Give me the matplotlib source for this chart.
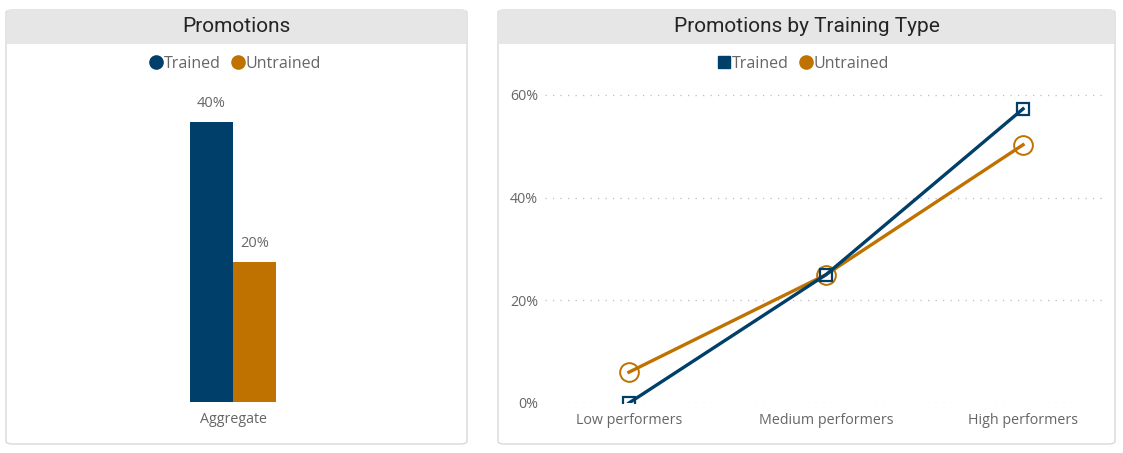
import matplotlib
matplotlib.use('Agg')
import matplotlib.pyplot as plt
from matplotlib.patches import FancyBboxPatch, Rectangle
from matplotlib.lines import Line2D
from matplotlib.ticker import PercentFormatter

# data
series = ['Trained', 'Untrained']
aggregate = [0.40, 0.20]
categories = ['Low performers', 'Medium performers', 'High performers']
trained = [0.0, 0.25, 0.573]
untrained = [0.06, 0.25, 0.503]

NAVY = '#003F6A'
ORANGE = '#BF7200'
GREY_TXT = '#666666'

plt.rcParams['font.family'] = ['Open Sans', 'DejaVu Sans']

W, H = 1123, 453
fig = plt.figure(figsize=(W / 100, H / 100), dpi=100)
fig.patch.set_facecolor('white')


def px(x0, y0, x1, y1):
    # pixel box (top-left origin) -> figure fraction rect
    return [x0 / W, 1 - y1 / H, (x1 - x0) / W, (y1 - y0) / H]


def panel(x0, y0, x1, y1, title):
    box = FancyBboxPatch((x0 / W, 1 - y1 / H), (x1 - x0) / W, (y1 - y0) / H,
                         boxstyle='round,pad=0,rounding_size=0.006',
                         transform=fig.transFigure, facecolor='white',
                         edgecolor='#d9d9d9', linewidth=1.0, zorder=-3)
    fig.patches.append(box)
    head = Rectangle((x0 / W + 0.0008, 1 - 44 / H), (x1 - x0) / W - 0.0016, 34 / H,
                     transform=fig.transFigure, facecolor='#e6e6e6',
                     edgecolor='none', zorder=-2)
    fig.patches.append(head)
    fig.text((x0 + x1) / 2 / W, 1 - 26 / H, title, ha='center', va='center',
             fontsize=15, color='#252423', family=['Roboto', 'DejaVu Sans'])


panel(6, 10, 467, 444, 'Promotions')
panel(498, 10, 1115, 444, 'Promotions by Training Type')

# left bar chart
ax1 = fig.add_axes(px(20, 90, 446, 402))
ax1.patch.set_visible(False)
bw = 0.204
xs = [-bw / 2, bw / 2]
bars = ax1.bar(xs, aggregate, width=bw, color=[NAVY, ORANGE])
for x, v in zip(xs, aggregate):
    ax1.annotate(f'{v:.0%}', (x, v), xytext=(0, 13), textcoords='offset points',
                 ha='center', va='center', fontsize=10.5, color=GREY_TXT)
ax1.set_xlim(-1, 1)
ax1.set_ylim(0, 0.4 * 312 / 280)
ax1.set_xticks([0])
ax1.set_xticklabels(['Aggregate'], fontsize=10.3, color=GREY_TXT)
ax1.tick_params(axis='x', length=0, pad=7)
ax1.set_yticks([])
for s in ax1.spines.values():
    s.set_visible(False)

h1 = [Line2D([], [], marker='o', linestyle='none', color=c, markersize=9.5)
      for c in (NAVY, ORANGE)]
fig.legend(h1, series, loc='center', bbox_to_anchor=(235 / W, 1 - 64 / H),
           ncol=2, frameon=False, handletextpad=0.05, columnspacing=0.6,
           handlelength=0.9, fontsize=11.5, labelcolor=GREY_TXT)

# right line chart
ax2 = fig.add_axes(px(545, 85, 1105, 403))
ax2.patch.set_visible(False)
xi = range(len(categories))
ax2.plot(xi, trained, color=NAVY, linewidth=2.4, marker='s', markersize=8.5,
         markerfacecolor='none', markeredgewidth=1.6, zorder=3)
ax2.plot(xi, untrained, color=ORANGE, linewidth=2.4, marker='o', markersize=13.5,
         markerfacecolor='none', markeredgewidth=1.4, zorder=2)
ax2.set_xlim(-0.426, 2.416)
ax2.set_ylim(0, 0.6 * 318 / 308)
ax2.set_yticks([0, 0.2, 0.4, 0.6])
ax2.yaxis.set_major_formatter(PercentFormatter(1.0, decimals=0))
ax2.set_xticks(list(xi))
ax2.set_xticklabels(categories)
ax2.tick_params(axis='both', length=0, labelsize=10.3, labelcolor=GREY_TXT)
ax2.tick_params(axis='y', pad=5)
ax2.tick_params(axis='x', pad=7)
ax2.grid(axis='y', color='#bdbdbd', linestyle=(0, (1, 5)), linewidth=0.9)
ax2.set_axisbelow(True)
for s in ax2.spines.values():
    s.set_visible(False)

h2 = [Line2D([], [], marker='s', linestyle='none', color=NAVY, markersize=9),
      Line2D([], [], marker='o', linestyle='none', color=ORANGE, markersize=9.5)]
fig.legend(h2, series, loc='center', bbox_to_anchor=(803 / W, 1 - 64 / H),
           ncol=2, frameon=False, handletextpad=0.05, columnspacing=0.6,
           handlelength=0.9, fontsize=11.5, labelcolor=GREY_TXT)

fig.savefig('out.png', dpi=100)
